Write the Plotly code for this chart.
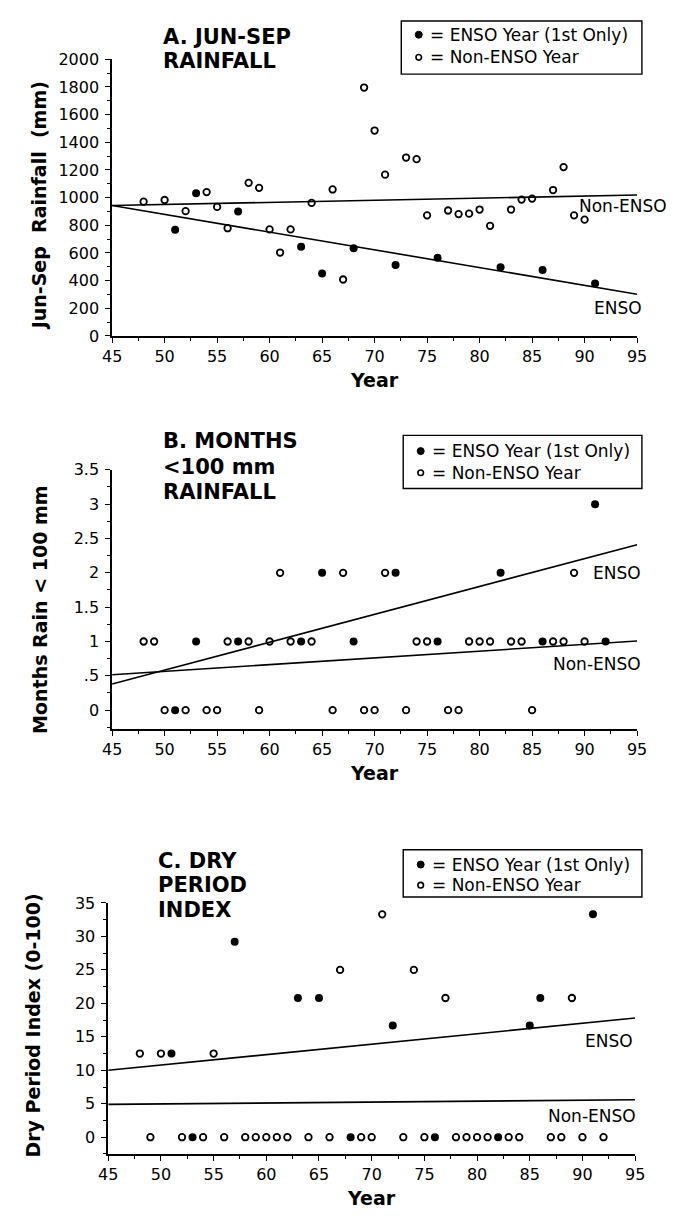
import plotly.graph_objects as go

W, H = 674, 1216

# ---------------- data ----------------
years_trend = [45, 95]
x_ticks = [45, 50, 55, 60, 65, 70, 75, 80, 85, 90, 95]

# Panel A: Jun-Sep rainfall (mm)
a_enso_year = [51, 53, 57, 63, 65, 68, 72, 76, 82, 86, 91]
a_enso_val = [767, 1031, 900, 644, 451, 634, 513, 565, 496, 477, 380]
a_non_year = [48, 50, 52, 54, 55, 56, 58, 59, 60, 61, 62, 64, 66, 67, 69, 70,
              71, 73, 74, 75, 77, 78, 79, 80, 81, 83, 84, 85, 87, 88, 89, 90]
a_non_val = [971, 983, 902, 1040, 933, 779, 1107, 1071, 770, 603, 770, 962,
             1059, 408, 1796, 1485, 1166, 1290, 1278, 872, 907, 881, 884, 914,
             796, 914, 986, 993, 1055, 1221, 872, 841]
a_enso_trend = [943, 302]
a_non_trend = [943, 1019]

# Panel B: months with < 100 mm rain
b_enso_year = [51, 53, 57, 63, 65, 68, 72, 76, 82, 86, 91, 92]
b_enso_val = [0, 1, 1, 1, 2, 1, 2, 1, 2, 1, 3, 1]
b_non_year = [48, 49, 50, 52, 54, 55, 56, 58, 59, 60, 61, 62, 64, 66, 67, 69,
              70, 71, 73, 74, 75, 77, 78, 79, 80, 81, 83, 84, 85, 87, 88, 89, 90]
b_non_val = [1, 1, 0, 0, 0, 0, 1, 1, 0, 1, 2, 1, 1, 0, 2, 0,
             0, 2, 0, 1, 1, 0, 0, 1, 1, 1, 1, 1, 0, 1, 1, 2, 1]
b_enso_trend = [0.38, 2.41]
b_non_trend = [0.515, 1.007]
b_tick_vals = [0, 0.5, 1, 1.5, 2, 2.5, 3, 3.5]
b_tick_text = ["0", ".5", "1", "1.5", "2", "2.5", "3", "3.5"]

# Panel C: dry period index (0-100)
c_enso_year = [51, 53, 57, 63, 65, 68, 72, 76, 82, 85, 86, 91]
c_enso_val = [12.5, 0, 29.2, 20.8, 20.8, 0, 16.7, 0, 0, 16.7, 20.8, 33.3]
c_non_year = [48, 49, 50, 52, 54, 55, 56, 58, 59, 60, 61, 62, 64, 66, 67, 69,
              70, 71, 73, 74, 75, 77, 78, 79, 80, 81, 83, 84, 87, 88, 89, 90, 92]
c_non_val = [12.5, 0, 12.5, 0, 0, 12.5, 0, 0, 0, 0, 0, 0, 0, 0, 25, 0,
             0, 33.3, 0, 25, 0, 20.8, 0, 0, 0, 0, 0, 0, 0, 0, 20.8, 0, 0]
c_enso_trend = [10.0, 17.8]
c_non_trend = [4.9, 5.6]

# ---------------- helpers ----------------
def X(px):
    return px / W

def Y(py):
    return 1 - py / H

FONT = "DejaVu Sans"
fig = go.Figure()

panels = [
    dict(xa="x", ya="y", ey=a_enso_year, ev=a_enso_val, ny=a_non_year, nv=a_non_val,
         et=a_enso_trend, nt=a_non_trend),
    dict(xa="x2", ya="y2", ey=b_enso_year, ev=b_enso_val, ny=b_non_year, nv=b_non_val,
         et=b_enso_trend, nt=b_non_trend),
    dict(xa="x3", ya="y3", ey=c_enso_year, ev=c_enso_val, ny=c_non_year, nv=c_non_val,
         et=c_enso_trend, nt=c_non_trend),
]

for p in panels:
    fig.add_trace(go.Scatter(x=years_trend, y=p["et"], mode="lines", xaxis=p["xa"], yaxis=p["ya"],
                             line=dict(color="black", width=1.6), showlegend=False, hoverinfo="skip"))
    fig.add_trace(go.Scatter(x=years_trend, y=p["nt"], mode="lines", xaxis=p["xa"], yaxis=p["ya"],
                             line=dict(color="black", width=1.6), showlegend=False, hoverinfo="skip"))
    fig.add_trace(go.Scatter(x=p["ny"], y=p["nv"], mode="markers", xaxis=p["xa"], yaxis=p["ya"],
                             marker=dict(symbol="circle-open", size=6.5, color="black",
                                         line=dict(width=1.8, color="black")),
                             showlegend=False, cliponaxis=False))
    fig.add_trace(go.Scatter(x=p["ey"], y=p["ev"], mode="markers", xaxis=p["xa"], yaxis=p["ya"],
                             marker=dict(symbol="circle", size=8, color="black"),
                             showlegend=False, cliponaxis=False))

tickfont = dict(family=FONT, size=16, color="black")

def xaxis(dom, anchor):
    return dict(domain=dom, anchor=anchor, range=[45, 95], tickvals=x_ticks,
                showline=True, linecolor="black", linewidth=1.6, ticks="outside",
                ticklen=5, tickwidth=1.3, tickcolor="black", showgrid=False, zeroline=False,
                tickfont=tickfont,
                minor=dict(ticks="outside", ticklen=3, tickwidth=1.2, tickcolor="black",
                           dtick=2.5, tick0=45, showgrid=False))

def yaxis(dom, anchor, rng, **kw):
    d = dict(domain=dom, anchor=anchor, range=rng, showline=True, linecolor="black",
             linewidth=1.6, ticks="outside", ticklen=5, tickwidth=1.3, tickcolor="black",
             showgrid=False, zeroline=False, tickfont=tickfont, ticklabelstandoff=3)
    d.update(kw)
    return d

xdomAB = [X(97), X(638)]
xdomC = [X(93), X(636)]

fig.update_layout(
    width=W, height=H, margin=dict(l=0, r=0, t=0, b=0),
    paper_bgcolor="white", plot_bgcolor="white", showlegend=False,
    xaxis=xaxis(xdomAB, "y"),
    yaxis=yaxis([Y(324), Y(43)], "x", [0, 2000], dtick=200, tick0=0,
                minor=dict(ticks="outside", ticklen=3, tickwidth=1.2, tickcolor="black",
                           dtick=100, tick0=0, showgrid=False)),
    xaxis2=xaxis(xdomAB, "y2"),
    yaxis2=yaxis([Y(723), Y(460)], "x2", [-0.27, 3.5], tickvals=b_tick_vals, ticktext=b_tick_text,
                 minor=dict(ticks="outside", ticklen=3, tickwidth=1.2, tickcolor="black",
                            dtick=0.25, tick0=0, showgrid=False)),
    xaxis3=xaxis(xdomC, "y3"),
    yaxis3=yaxis([Y(1155), Y(900)], "x3", [-2.5, 35], dtick=5, tick0=0,
                 minor=dict(ticks="outside", ticklen=3, tickwidth=1.2, tickcolor="black",
                            dtick=2.5, tick0=0, showgrid=False)),
)

ann = []
shapes = []

def ptext(text, px, py, size, bold=False, xanchor="left", angle=0):
    ann.append(dict(text=("<b>%s</b>" % text) if bold else text, x=X(px), y=Y(py),
                    xref="paper", yref="paper", xanchor=xanchor, yanchor="middle",
                    showarrow=False, textangle=angle, borderpad=0,
                    font=dict(family=FONT, size=size, color="black")))

# titles (one annotation per line)
for txt, py in [("A. JUN-SEP", 20), ("RAINFALL", 45)]:
    ptext(txt, 148, py, 21, bold=True)
for txt, py in [("B. MONTHS", 431), ("&lt;100 mm", 457), ("RAINFALL", 483)]:
    ptext(txt, 148, py, 21, bold=True)
for txt, py in [("C. DRY", 857), ("PERIOD", 882), ("INDEX", 907)]:
    ptext(txt, 143, py, 21, bold=True)

# axis titles
ptext("Jun-Sep\u00a0 Rainfall\u00a0 (mm)", 22, 192, 19, bold=True, xanchor="center", angle=-90)
ptext("Months Rain &lt; 100 mm", 22, 602, 19, bold=True, xanchor="center", angle=-90)
ptext("Dry Period Index (0-100)", 15, 1025, 19, bold=True, xanchor="center", angle=-90)
ptext("Year", (97 + 638) / 2, 369, 19, bold=True, xanchor="center")
ptext("Year", (97 + 638) / 2, 768, 19, bold=True, xanchor="center")
ptext("Year", (93 + 636) / 2, 1200, 19, bold=True, xanchor="center")

# line labels
def dtext(text, xa, ya, x, y, xanchor="center"):
    ann.append(dict(text=text, x=x, y=y, xref=xa, yref=ya, xanchor=xanchor, yanchor="middle",
                    showarrow=False, font=dict(family=FONT, size=17, color="black")))

dtext("Non-ENSO", "paper", "y", X(671), 943, xanchor="right")
dtext("ENSO", "x", "y", 93.2, 200)
dtext("ENSO", "x2", "y2", 93.1, 2.0)
dtext("Non-ENSO", "x2", "y2", 91.2, 0.675)
dtext("ENSO", "x3", "y3", 92.5, 14.3)
dtext("Non-ENSO", "x3", "y3", 90.9, 3.1)

# legend boxes
def legend_box(left, right, top, bottom, l1, l2):
    shapes.append(dict(type="rect", xref="paper", yref="paper", x0=X(left), x1=X(right),
                       y0=Y(bottom), y1=Y(top), line=dict(color="black", width=1.4),
                       fillcolor="white", layer="above"))
    bx = left + 18
    shapes.append(dict(type="circle", xref="paper", yref="paper", xsizemode="pixel",
                       ysizemode="pixel", xanchor=X(bx), yanchor=Y(l1), x0=-3.5, x1=3.5,
                       y0=-3.5, y1=3.5, fillcolor="black", line=dict(color="black", width=1)))
    shapes.append(dict(type="circle", xref="paper", yref="paper", xsizemode="pixel",
                       ysizemode="pixel", xanchor=X(bx), yanchor=Y(l2), x0=-2.8, x1=2.8,
                       y0=-2.8, y1=2.8, fillcolor="white", line=dict(color="black", width=1.6)))
    ptext("= ENSO Year (1st Only)", left + 29, l1, 17)
    ptext("= Non-ENSO Year", left + 29, l2, 17)

legend_box(395, 643, 4, 58, 18, 41)
legend_box(397, 643, 425, 479, 441, 463)
legend_box(397, 643, 846, 894, 861, 882)

fig.update_layout(annotations=ann, shapes=shapes)
fig.write_html("out.html")
